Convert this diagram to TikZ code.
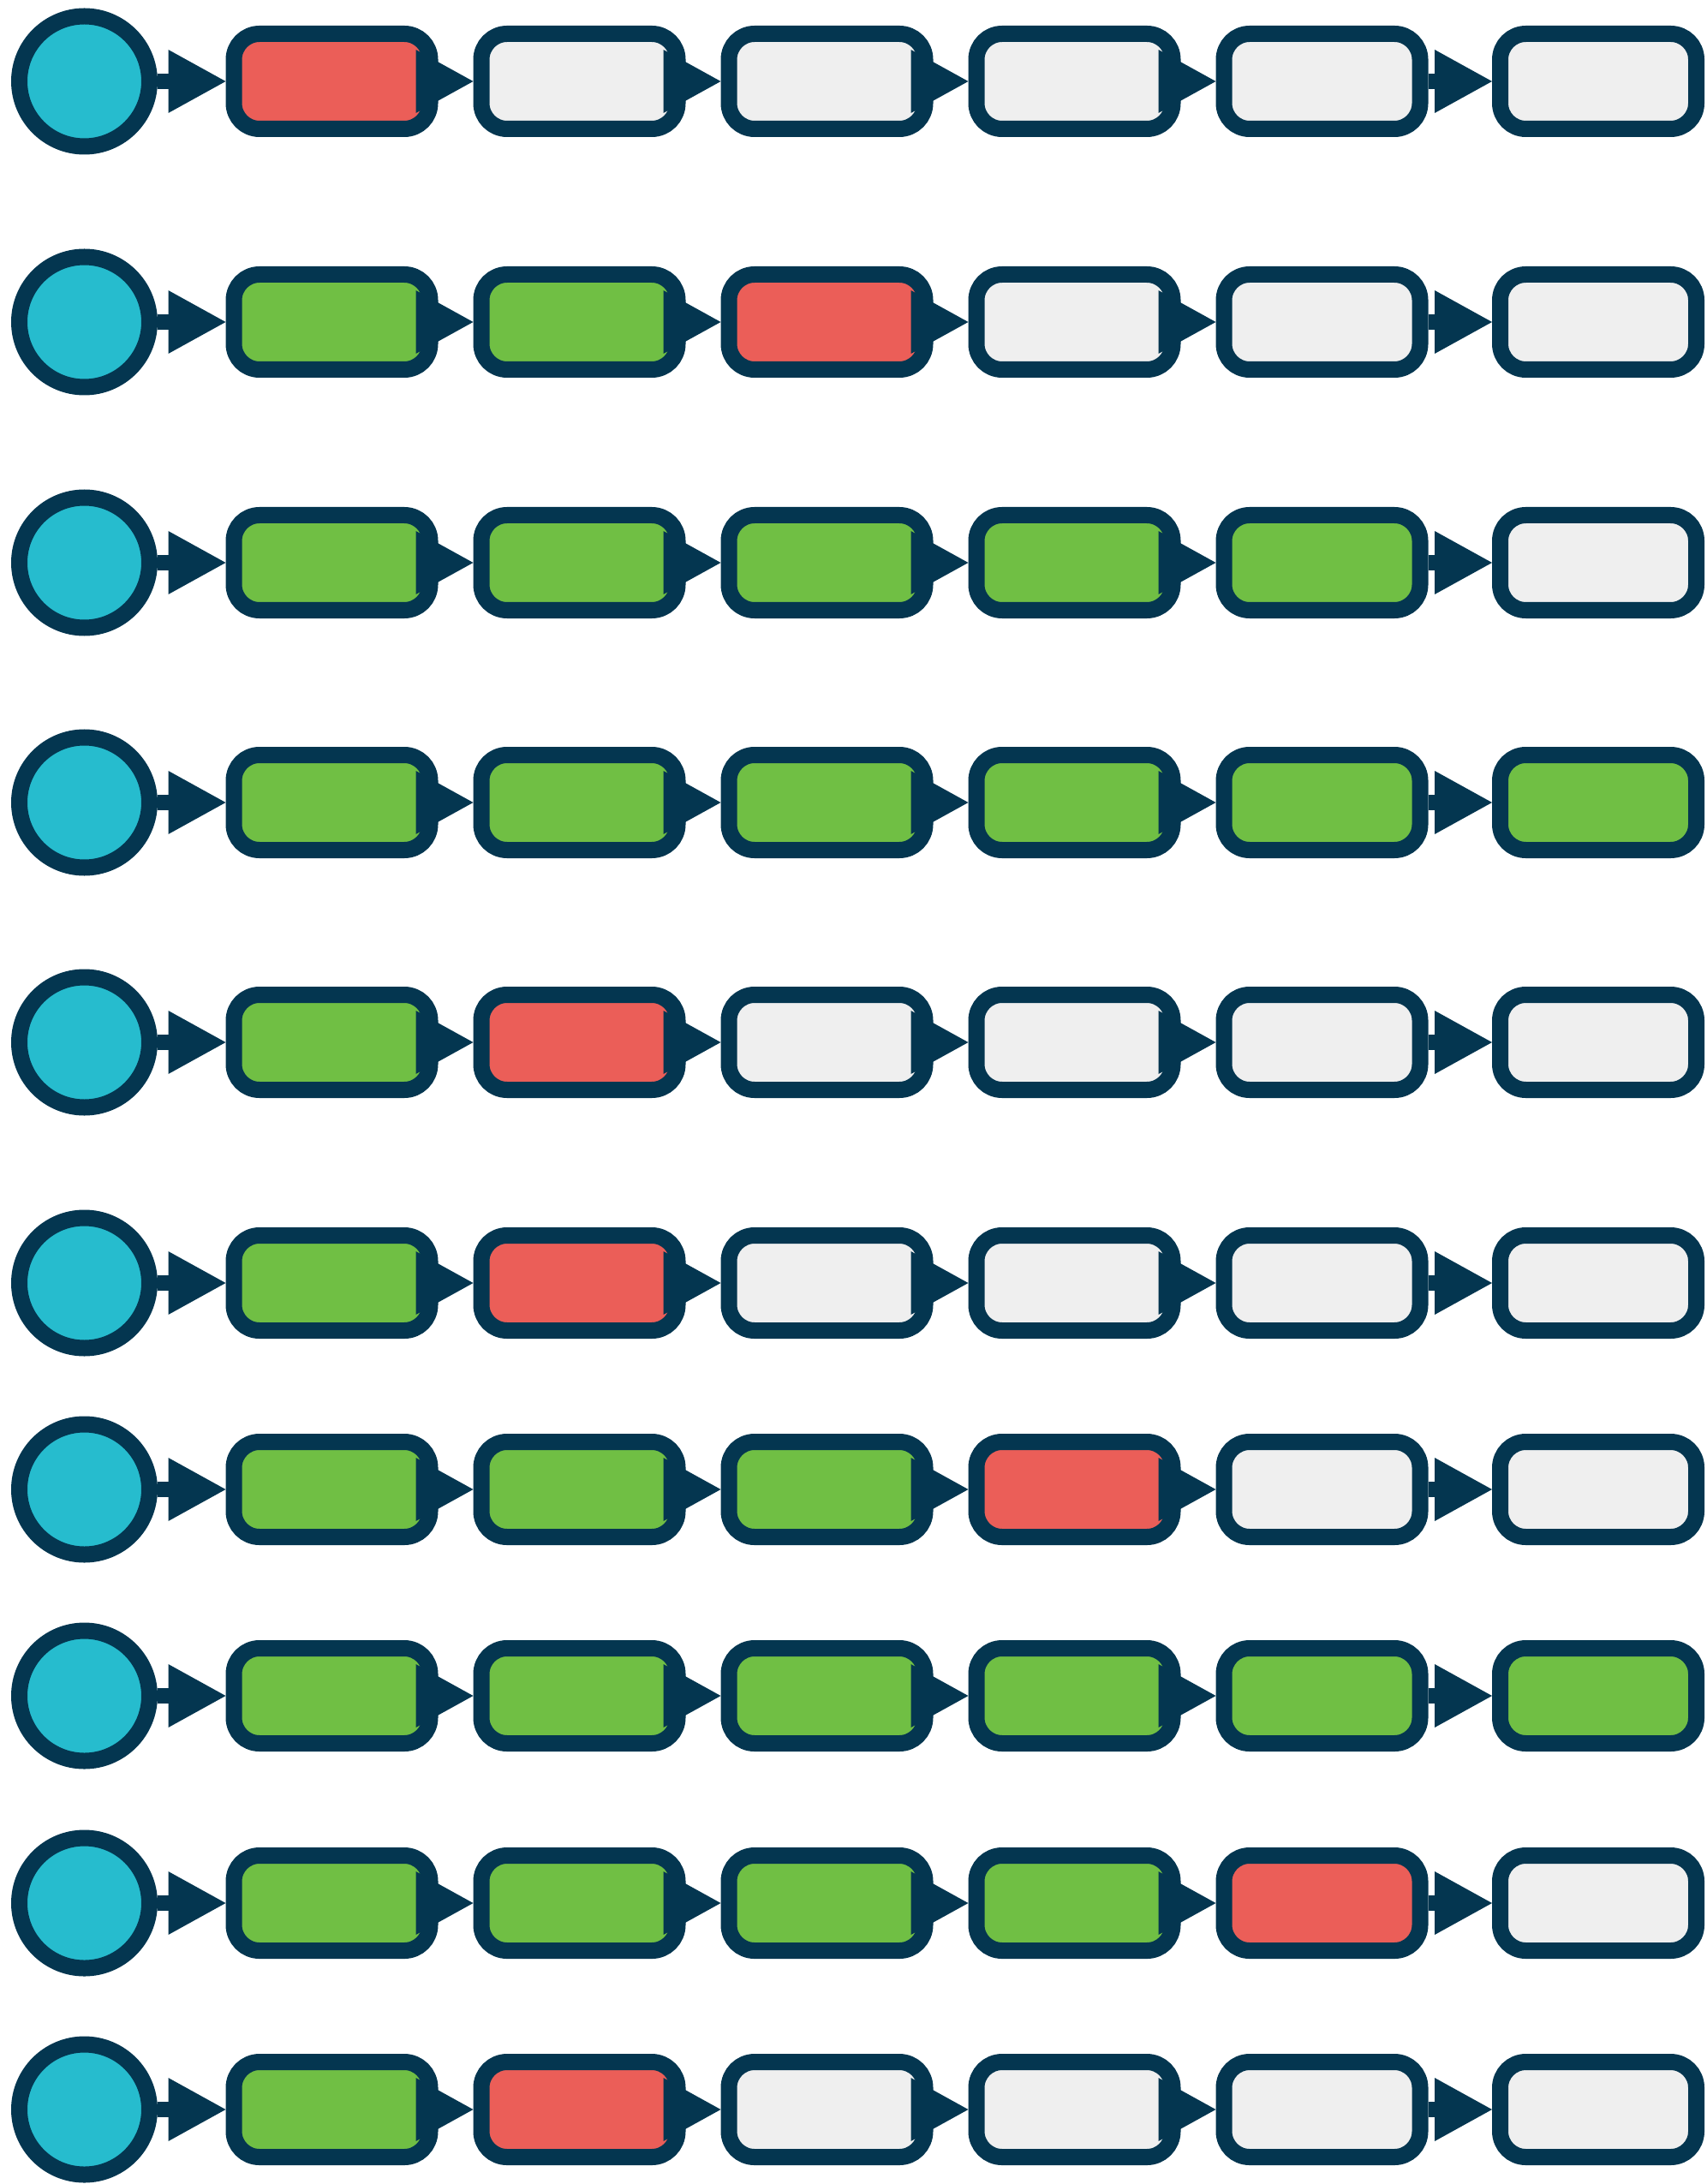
\documentclass[tikz,border=0pt]{standalone}
\usepackage{tikz}
\usetikzlibrary{arrows.meta}

\definecolor{rim}{HTML}{043650}
\definecolor{srcfill}{HTML}{26BCCE}
\definecolor{cellG}{HTML}{70BF44}
\definecolor{cellR}{HTML}{EB5E58}
\definecolor{cellE}{HTML}{EFEFEF}

\begin{document}
\begin{tikzpicture}[
    src/.style={circle, draw=rim, fill=srcfill, line width=1.9mm, minimum size=15.2mm, inner sep=0pt},
    cell/.style={rectangle, rounded corners=3mm, draw=rim, line width=1.9mm, minimum width=22.9mm, minimum height=11.1mm, inner sep=0pt},
    link/.style={draw=rim, line width=1.8mm, -{Triangle[length=6.7mm, width=7.4mm, line width=0pt]}}
  ]
  \useasboundingbox (0,0) rectangle (19.92,-25.5);

  % one row per run: G passed, R failed, E not reached
  \foreach \y/\cells [count=\r] in {
      0.95/{R,E,E,E,E,E},
      3.76/{G,G,R,E,E,E},
      6.57/{G,G,G,G,G,E},
      9.37/{G,G,G,G,G,G},
      12.17/{G,R,E,E,E,E},
      14.98/{G,R,E,E,E,E},
      17.39/{G,G,G,R,E,E},
      19.80/{G,G,G,G,G,G},
      22.22/{G,G,G,G,R,E},
      24.63/{G,R,E,E,E,E}%
  }{
    \node[src] (n\r-0) at (0.985,-\y) {};
    \foreach \s [count=\c, remember=\c as \p (initially 0)] in \cells {
      \pgfmathsetmacro\bx{\c<6 ? 0.985+2.89*\c : 18.66}
      \node[cell, fill=cell\s] (n\r-\c) at (\bx,-\y) {};
      \draw[link] (n\r-\p) -- (n\r-\c);
    }
  }
\end{tikzpicture}
\end{document}
